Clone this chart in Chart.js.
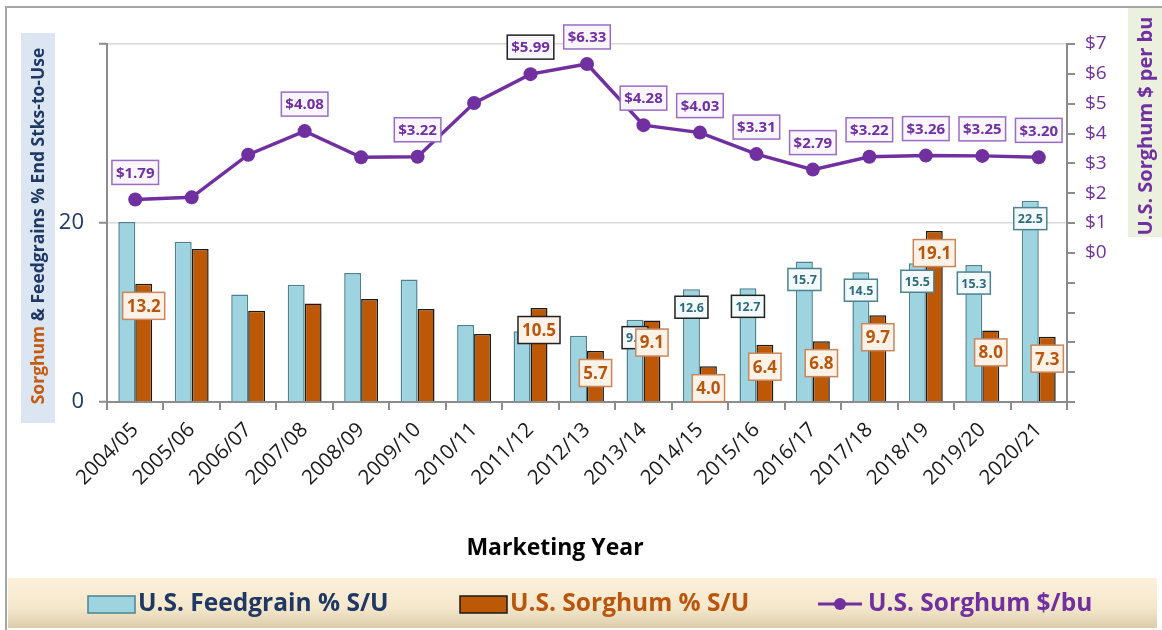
<!DOCTYPE HTML>
<html>
<head>
<script src="https://cdn.jsdelivr.net/npm/chart.js@4.4.0/dist/chart.umd.min.js"></script>
<style>
  body { margin: 0; background: #fff; }
</style>
</head>
<body>
<canvas id="sorghum-chart" width="1162" height="630"></canvas>

<script>
var years = ['2004/05', '2005/06', '2006/07', '2007/08', '2008/09', '2009/10', '2010/11', '2011/12', '2012/13',
             '2013/14', '2014/15', '2015/16', '2016/17', '2017/18', '2018/19', '2019/20', '2020/21'];
var feedgrainSU = [20.1, 17.9, 12.0, 13.1, 14.4, 13.7, 8.6, 7.9, 7.4, 9.2, 12.6, 12.7, 15.7, 14.5, 15.5, 15.3, 22.5];
var sorghumSU = [13.2, 17.1, 10.2, 11.0, 11.5, 10.4, 7.6, 10.5, 5.7, 9.1, 4.0, 6.4, 6.8, 9.7, 19.1, 8.0, 7.3];
var sorghumPrice = [1.79, 1.86, 3.29, 4.08, 3.20, 3.22, 5.02, 5.99, 6.33, 4.28, 4.03, 3.31, 2.79, 3.22, 3.26, 3.25, 3.20];

// axis ranges
var suTicks = [0, 20, 40];
var priceMin = -5, priceMax = 7;

// which points carry a value box (and which boxes have a dark outline)
var feedLabelIdx = [9, 10, 11, 12, 13, 14, 15, 16];
var sorghumLabelIdx = [0, 7, 8, 9, 10, 11, 12, 13, 14, 15, 16];
var priceLabelIdx = [0, 3, 5, 7, 8, 9, 10, 11, 12, 13, 14, 15, 16];
var feedDarkIdx = [9, 10, 11];
var sorghumDarkIdx = [7];
var priceDarkIdx = [7];

var FONT = "'Open Sans', 'DejaVu Sans', sans-serif";
var NAVY = '#1f3864', BROWN = '#b9560e', PURPLE = '#7030a0';

function valueBox(ctx, text, cx, cy, opt) {
  ctx.save();
  ctx.font = 'bold ' + opt.size + 'px ' + FONT;
  var w = ctx.measureText(text).width + opt.padX * 2;
  var h = opt.h;
  ctx.fillStyle = opt.fill;
  ctx.fillRect(cx - w / 2, cy - h / 2, w, h);
  ctx.lineWidth = 1.5;
  ctx.strokeStyle = opt.border;
  ctx.strokeRect(cx - w / 2, cy - h / 2, w, h);
  ctx.fillStyle = opt.color;
  ctx.textAlign = 'center';
  ctx.textBaseline = 'middle';
  ctx.fillText(text, cx, cy + 1);
  ctx.restore();
}

var boxPlugin = {
  id: 'valueBoxes',
  afterDatasetsDraw: function(chart) {
    var ctx = chart.ctx;
    var feedMeta = chart.getDatasetMeta(0);
    var sorgMeta = chart.getDatasetMeta(1);
    var priceMeta = chart.getDatasetMeta(2);
    feedLabelIdx.forEach(function(i) {
      var el = feedMeta.data[i];
      valueBox(ctx, feedgrainSU[i].toFixed(1), el.x, el.y + 18, {
        size: 12.5, padX: 4, h: 22, fill: '#f3fafc', color: '#2f6a7c',
        border: feedDarkIdx.indexOf(i) >= 0 ? '#222' : '#4d8292'
      });
    });
    sorghumLabelIdx.forEach(function(i) {
      var el = sorgMeta.data[i];
      valueBox(ctx, sorghumSU[i].toFixed(1), el.x, el.y + 22, {
        size: 17, padX: 4, h: 27, fill: '#fdf2e8', color: BROWN,
        border: sorghumDarkIdx.indexOf(i) >= 0 ? '#222' : '#c8865a'
      });
    });
    priceLabelIdx.forEach(function(i) {
      var el = priceMeta.data[i];
      valueBox(ctx, '$' + sorghumPrice[i].toFixed(2), el.x, el.y - 27, {
        size: 15, padX: 4, h: 24, fill: '#f8f6fc', color: PURPLE,
        border: priceDarkIdx.indexOf(i) >= 0 ? '#222' : '#9a6cc4'
      });
    });
  }
};

var decorPlugin = {
  id: 'decor',
  beforeDraw: function(chart) {
    var ctx = chart.ctx;
    ctx.save();
    // outer frame (top and left edges are in view)
    ctx.strokeStyle = '#a6a6a6';
    ctx.lineWidth = 2;
    ctx.beginPath();
    ctx.moveTo(6, 640);
    ctx.lineTo(6, 7);
    ctx.lineTo(1162, 7);
    ctx.stroke();
    // axis title boxes
    ctx.fillStyle = '#dce6f2';
    ctx.fillRect(21, 33, 34, 390);
    ctx.fillStyle = '#ebf1de';
    ctx.fillRect(1128, 8, 34, 229);

    ctx.font = 'bold 17.5px ' + FONT;
    ctx.textBaseline = 'middle';
    ctx.textAlign = 'left';
    // left title, two colours
    ctx.translate(39, 226);
    ctx.rotate(-Math.PI / 2);
    var a = 'Sorghum ', b = '& Feedgrains % End Stks-to-Use';
    var wa = ctx.measureText(a).width, wb = ctx.measureText(b).width;
    var x0 = -(wa + wb) / 2;
    ctx.fillStyle = '#c55a11';
    ctx.fillText(a, x0, 0);
    ctx.fillStyle = NAVY;
    ctx.fillText(b, x0 + wa, 0);
    ctx.restore();

    ctx.save();
    ctx.font = 'bold 20px ' + FONT;
    ctx.textBaseline = 'middle';
    ctx.textAlign = 'center';
    ctx.translate(1146, 126);
    ctx.rotate(-Math.PI / 2);
    ctx.fillStyle = PURPLE;
    ctx.fillText('U.S. Sorghum $ per bu', 0, 0);
    ctx.restore();
  },
  afterDraw: function(chart) {
    var ctx = chart.ctx;
    ctx.save();
    // x axis title
    ctx.font = 'bold 23px ' + FONT;
    ctx.textAlign = 'center';
    ctx.textBaseline = 'middle';
    ctx.fillStyle = '#000';
    ctx.fillText('Marketing Year', 555, 548);

    // legend band
    var g = ctx.createLinearGradient(0, 578, 0, 628);
    g.addColorStop(0, '#fdf1da');
    g.addColorStop(0.6, '#f4e7cc');
    g.addColorStop(1, '#dccdab');
    ctx.fillStyle = g;
    ctx.fillRect(8, 578, 1149, 50);

    var cy = 604;
    ctx.font = 'bold 24.5px ' + FONT;
    ctx.textBaseline = 'middle';
    ctx.textAlign = 'left';

    ctx.fillStyle = '#9ed3e0';
    ctx.fillRect(88, 596, 47, 17);
    ctx.strokeStyle = '#4d8292';
    ctx.lineWidth = 1.5;
    ctx.strokeRect(88, 596, 47, 17);
    ctx.fillStyle = NAVY;
    ctx.fillText('U.S. Feedgrain % S/U', 138, cy);

    ctx.fillStyle = '#bc5806';
    ctx.fillRect(460, 596, 47, 17);
    ctx.strokeStyle = '#1a1a1a';
    ctx.strokeRect(460, 596, 47, 17);
    ctx.fillStyle = BROWN;
    ctx.fillText('U.S. Sorghum % S/U', 510, cy);

    ctx.strokeStyle = PURPLE;
    ctx.lineWidth = 3;
    ctx.beginPath();
    ctx.moveTo(818, cy);
    ctx.lineTo(862, cy);
    ctx.stroke();
    ctx.fillStyle = PURPLE;
    ctx.beginPath();
    ctx.arc(840, cy, 6, 0, Math.PI * 2);
    ctx.fill();
    ctx.fillText('U.S. Sorghum $/bu', 868, cy);
    ctx.restore();
  }
};

new Chart(document.getElementById('sorghum-chart'), {
  type: 'bar',
  data: {
    labels: years,
    datasets: [{
      label: 'U.S. Feedgrain % S/U',
      data: feedgrainSU,
      backgroundColor: '#9ed3e0',
      borderColor: '#4d8292',
      borderWidth: 1.5,
      yAxisID: 'y',
      order: 2,
      categoryPercentage: 0.6,
      barPercentage: 1.0
    }, {
      label: 'U.S. Sorghum % S/U',
      data: sorghumSU,
      backgroundColor: '#bc5806',
      borderColor: '#1a1a1a',
      borderWidth: 1.5,
      yAxisID: 'y',
      order: 2,
      categoryPercentage: 0.6,
      barPercentage: 1.0
    }, {
      type: 'line',
      label: 'U.S. Sorghum $/bu',
      data: sorghumPrice,
      borderColor: PURPLE,
      backgroundColor: PURPLE,
      borderWidth: 3.5,
      pointRadius: 7,
      pointHoverRadius: 7,
      pointBackgroundColor: PURPLE,
      pointBorderWidth: 0,
      tension: 0,
      yAxisID: 'y1',
      order: 1
    }]
  },
  plugins: [decorPlugin, boxPlugin],
  options: {
    responsive: false,
    animation: false,
    layout: { padding: { top: 44, left: 0, right: 0, bottom: 65 } },
    plugins: {
      legend: { display: false },
      tooltip: { enabled: false }
    },
    scales: {
      x: {
        offset: true,
        grid: { display: true, offset: true, drawOnChartArea: false, color: '#8c8c8c', lineWidth: 2, tickLength: 8 },
        border: { color: '#8c8c8c', width: 2 },
        ticks: { color: '#1a1a1a', font: { family: FONT, size: 20.5 }, minRotation: 45, maxRotation: 45, padding: 8, autoSkip: false },
        afterFit: function(scale) { scale.height = 163; }
      },
      y: {
        position: 'left',
        min: suTicks[0],
        max: suTicks[suTicks.length - 1],
        afterBuildTicks: function(scale) { scale.ticks = suTicks.map(function(v) { return { value: v }; }); },
        grid: { color: '#d9d9d9', lineWidth: 1.5, tickColor: '#8c8c8c', tickLength: 8, tickWidth: 2 },
        border: { color: '#8c8c8c', width: 2 },
        ticks: {
          color: NAVY, font: { family: FONT, size: 22 }, padding: 15,
          callback: function(v) { return v < suTicks[suTicks.length - 1] ? v : ''; }
        },
        afterFit: function(scale) { scale.width = 107; }
      },
      y1: {
        position: 'right',
        min: priceMin,
        max: priceMax,
        grid: { drawOnChartArea: false, color: '#8c8c8c', lineWidth: 2, tickLength: 8 },
        border: { color: '#8c8c8c', width: 2 },
        ticks: {
          stepSize: 1, color: PURPLE, font: { family: FONT, size: 19 }, padding: 10,
          callback: function(v) { return v >= 0 ? '$' + v : ''; }
        },
        afterFit: function(scale) { scale.width = 95; }
      }
    }
  }
});
</script>

</body>
</html>
